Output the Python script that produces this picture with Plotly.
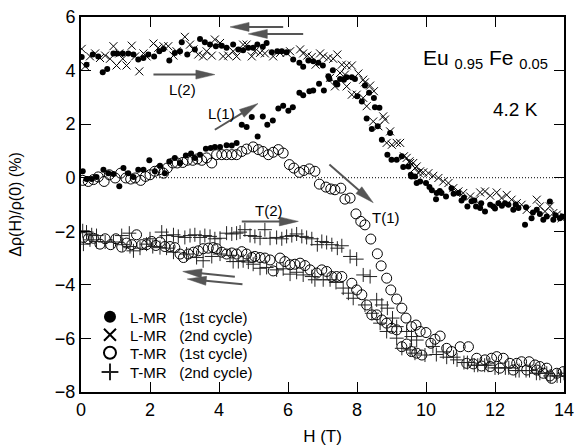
import plotly.graph_objects as go

# ---------------- data ----------------
# L-MR, 1st cycle (filled circles)
lmr1_x = [0.05, 0.16, 0.31, 0.45, 0.65, 0.79, 0.94, 1.11, 1.23, 1.37, 1.52, 1.66, 1.81, 1.98, 2.14, 2.29, 2.43, 2.56,
          2.72, 2.87, 3.04, 3.19, 3.30, 3.45, 3.62, 3.76, 3.88, 4.03, 4.22, 4.37, 4.51, 4.66, 4.80, 4.95, 5.12, 5.27,
          5.40, 5.56, 5.72, 5.86, 6.01, 6.14, 6.33, 6.44, 6.62, 6.73, 6.90, 7.04, 7.17, 7.30, 7.20, 7.39, 7.43, 7.51,
          7.62, 7.70, 7.85, 7.94, 8.01, 8.14, 8.23, 8.35, 8.49, 8.28, 8.43, 8.52, 8.65, 8.60, 8.96, 8.72, 8.88, 9.00,
          9.15, 9.30, 9.34, 9.49, 9.58, 9.68, 9.73, 9.56, 9.83, 10.00, 10.10, 10.17, 10.31, 10.29, 10.40, 10.45, 10.58,
          10.74, 10.80, 10.94, 11.03, 11.10, 11.20, 11.32, 11.40, 11.45, 11.57, 11.60, 11.71, 11.86, 11.95, 12.00,
          12.10, 12.20, 12.29, 12.39, 12.53, 12.60, 12.68, 12.87, 12.90, 13.06, 13.10, 13.21, 13.30, 13.40, 13.50,
          13.59, 13.69, 13.75, 13.88, 13.95,
          0.02, 0.16, 0.34, 0.50, 0.63, 0.76, 0.94, 1.05, 1.21, 1.37, 1.52, 1.66, 1.81, 1.95, 2.12, 2.27, 2.39, 2.56,
          2.72, 2.87, 2.92, 3.08, 3.30, 3.45, 3.59, 3.74, 3.91, 4.08, 4.22, 4.41, 4.56, 4.70, 4.85, 4.99, 5.11, 5.27,
          5.38, 5.53, 5.69, 5.82, 5.96, 6.15, 6.33, 6.44, 6.59, 6.73, 6.88, 7.01]
lmr1_y = [0.24, -0.05, -0.05, 0.03, 0.30, 0.17, 0.14, -0.32, 0.36, 0.17, 0.03, 0.30, 0.30, 0.65, 0.24, 0.45, 0.17, 0.61,
          0.74, 0.55, 0.83, 0.90, 0.74, 0.86, 1.08, 1.11, 1.15, 1.15, 1.21, 1.20, 1.30, 1.98, 1.89, 2.27, 1.54, 2.29,
          1.98, 2.14, 2.58, 2.69, 2.50, 2.63, 3.17, 3.08, 3.23, 3.26, 3.51, 3.26, 3.79, 4.01, 3.69, 3.54, 3.48, 3.69,
          3.66, 3.75, 3.75, 3.69, 3.04, 2.85, 3.44, 3.17, 2.98, 2.21, 1.82, 2.63, 2.61, 1.92, 1.67, 1.42, 0.86, 0.67,
          0.67, 0.80, 0.40, 0.42, 0.05, 0.05, -0.20, 0.11, -0.14, -0.20, -0.35, -0.47, -0.57, -0.80, -0.50, -0.57, -0.70,
          -0.39, -0.60, -0.57, -0.85, -0.75, -1.07, -0.88, -0.85, -1.07, -1.13, -0.95, -1.26, -1.01, -1.07, -1.15,
          -0.95, -1.05, -0.95, -1.01, -1.20, -1.00, -1.13, -1.76, -1.10, -1.51, -1.30, -1.20, -1.35, -1.57, -1.45,
          -0.89, -1.57, -1.40, -1.51, -1.45,
          4.51, 4.22, 4.60, 4.53, 3.94, 4.06, 4.64, 4.64, 4.64, 4.64, 4.60, 4.41, 4.47, 4.60, 4.53, 4.72, 4.81, 4.38,
          4.66, 4.72, 5.06, 4.60, 4.79, 5.18, 5.06, 4.97, 4.91, 4.93, 4.85, 4.97, 4.79, 4.76, 4.85, 4.85, 4.97, 4.89,
          5.03, 4.68, 4.72, 4.72, 4.68, 4.41, 4.29, 4.14, 4.38, 4.35, 4.29, 4.19]

# L-MR, 2nd cycle (x marks)
lmr2_x = [0.02, 0.12, 0.26, 0.41, 0.55, 0.70, 0.84, 0.94, 1.03, 1.11, 1.21, 1.32, 1.47, 1.57, 1.69, 1.81, 1.90, 2.10,
          2.24, 2.39, 2.53, 2.68, 2.77, 3.01, 3.16, 3.26, 3.40, 3.54, 3.64, 3.79, 3.88, 4.03, 4.12, 4.27, 4.41, 4.51,
          4.70, 4.80, 4.95, 5.04, 5.19, 5.33, 5.57, 5.77, 5.96, 6.06, 6.35, 6.44, 6.56, 6.69, 6.80, 6.93, 7.02, 7.17,
          7.31, 7.43, 7.56, 7.70, 7.85, 7.22, 7.36, 7.51, 7.65, 8.04, 7.70, 7.85, 7.99, 8.18, 8.23, 8.38, 8.49, 8.18,
          8.28, 8.47, 8.62, 8.76, 8.81, 8.96, 8.86, 9.01, 9.15, 9.25, 9.36, 9.44, 9.52, 9.63, 9.73, 9.78, 9.54, 9.68,
          9.83, 9.92, 10.07, 10.21, 10.36, 10.50, 10.65, 10.79, 10.94, 11.08, 11.28, 11.42, 11.57, 11.71, 11.86,
          12.05, 12.19, 12.34, 12.48, 12.63, 12.77, 12.92, 13.21, 13.30, 13.45, 13.59, 13.69, 13.79, 13.93, 14.00]
lmr2_y = [4.81, 4.16, 4.53, 4.64, 4.47, 4.56, 4.44, 4.91, 4.19, 4.64, 4.44, 4.19, 4.93, 4.53, 3.97, 4.64, 4.53, 5.01,
          4.85, 4.91, 4.91, 4.56, 4.72, 5.26, 4.97, 4.79, 4.60, 4.53, 4.72, 4.56, 5.16, 5.03, 4.53, 4.56, 4.72, 4.53,
          4.97, 4.97, 4.53, 4.72, 4.66, 4.64, 4.53, 4.66, 4.66, 4.72, 4.79, 4.64, 4.56, 4.51, 4.22, 4.64, 4.53, 4.47,
          4.44, 4.60, 4.22, 4.19, 4.19, 3.73, 3.41, 3.91, 3.85, 3.89, 3.41, 3.10, 3.10, 3.66, 3.56, 3.44, 3.23, 2.98,
          2.67, 2.10, 1.92, 2.29, 2.17, 1.73, 1.30, 1.23, 1.30, 1.30, 0.80, 0.74, 0.61, 0.55, 0.42, 0.18, 0.55, 0.36,
          0.24, 0.20, 0.17, 0.07, -0.01, -0.14, -0.20, -0.39, -0.51, -0.57, -0.70, -0.82, -0.55, -0.51, -0.67,
          -0.55, -0.76, -0.64, -0.82, -0.95, -1.01, -1.20, -0.82, -1.07, -1.26, -1.07, -1.32, -1.38, -1.51, -1.45]

# T-MR, 1st cycle (open circles)
tmr1_x = [0.05, 0.21, 0.36, 0.50, 0.67, 0.82, 0.99, 1.15, 1.30, 1.44, 1.57, 1.73, 1.87, 2.00, 2.14, 2.27, 2.39, 2.50,
          2.66, 2.79, 2.95, 3.08, 3.24, 3.37, 3.50, 3.64, 3.79, 3.93, 4.08, 4.22, 4.37, 4.51, 4.66, 4.80, 4.99, 5.14,
          5.27, 5.43, 5.57, 5.72, 5.86, 6.04, 6.17, 6.33, 6.46, 6.62, 6.78, 6.91, 7.10, 7.24, 7.36, 7.53, 7.65, 7.80,
          7.97, 8.11, 8.23, 8.40, 8.59, 8.70, 8.86, 8.98, 9.15, 9.30, 9.42, 9.58, 9.71, 9.83, 10.00, 10.14, 10.26,
          10.41, 10.60, 10.74, 10.99, 11.23, 11.47, 11.71, 11.90, 12.05, 12.24, 12.43, 12.63, 12.77, 12.99, 13.16,
          13.30, 13.50, 13.64, 13.79, 13.98,
          0.07, 0.21, 0.36, 0.55, 0.70, 0.86, 1.01, 1.18, 1.32, 1.47, 1.61, 1.76, 1.90, 2.05, 2.17, 2.29, 2.43, 2.58,
          2.72, 2.87, 2.97, 3.11, 3.26, 3.40, 3.54, 3.69, 3.83, 3.93, 4.08, 4.22, 4.37, 4.51, 4.66, 4.80, 4.95, 5.04,
          5.19, 5.33, 5.48, 5.57, 5.77, 5.91, 6.06, 6.20, 6.35, 6.49, 6.64, 6.83, 6.98, 7.12, 7.27, 7.41, 7.56, 7.85,
          7.99, 8.14, 8.28, 8.43, 8.57, 8.72, 8.86, 9.01, 9.15, 9.30, 9.44, 9.58, 9.73, 9.88, 11.18, 11.37, 11.61,
          11.86, 12.14, 12.53, 12.92, 13.21, 13.40, 13.59]
tmr1_y = [-0.10, -0.14, -0.07, 0.03, -0.14, 0.11, -0.01, 0.17, -0.01, -0.05, -0.01, -0.10, 0.05, 0.11, 0.24, 0.30,
          0.17, 0.36, 0.55, 0.55, 0.57, 0.65, 0.65, 0.70, 0.65, 0.74, 0.55, 0.86, 0.86, 0.86, 0.86, 0.86, 0.98, 1.07,
          1.15, 1.05, 0.98, 0.86, 0.95, 1.05, 0.92, 0.49, 0.36, 0.20, 0.27, 0.33, 0.24, -0.24, -0.35, -0.42, -0.45,
          -0.39, -0.80, -0.76, -1.35, -1.63, -1.76, -2.29, -2.84, -3.29, -3.75, -4.19, -4.53, -4.87, -5.24, -5.56,
          -5.50, -5.74, -5.78, -6.18, -6.03, -5.91, -6.37, -6.49, -6.31, -6.31, -6.74, -6.80, -6.74, -6.68, -6.74,
          -6.93, -6.93, -6.87, -6.87, -6.99, -7.05, -7.11, -7.49, -7.30, -7.24,
          -2.23, -2.28, -2.26, -2.48, -2.28, -2.50, -2.28, -2.59, -2.44, -2.50, -2.13, -2.50, -2.50, -2.38, -2.53,
          -2.40, -2.57, -2.57, -2.61, -2.85, -2.98, -2.85, -2.78, -2.73, -2.65, -2.63, -2.61, -2.65, -2.78, -2.85,
          -2.81, -2.85, -2.76, -2.85, -2.98, -2.94, -2.98, -3.00, -3.07, -3.48, -3.00, -3.13, -3.25, -3.23, -3.19,
          -3.28, -3.44, -3.56, -3.44, -3.50, -3.69, -3.69, -3.69, -3.94, -4.19, -4.37, -4.75, -5.12, -5.12, -5.31,
          -5.43, -5.62, -5.68, -6.31, -6.21, -6.49, -6.55, -6.62, -6.93, -6.95, -7.03, -7.05, -7.11, -7.18, -7.18,
          -7.18, -7.30, -7.40]

# T-MR, 2nd cycle (+ marks)
tmr2_x = [0.05, 0.16, 0.31, 0.45, 1.18, 1.40, 2.00, 2.34, 2.48, 2.68, 2.82, 3.01, 3.16, 3.30, 3.45, 3.59, 3.74, 3.88,
          4.03, 4.22, 4.37, 4.51, 4.61, 4.75, 4.90, 5.04, 5.19, 5.33, 5.48, 5.67, 5.82, 5.96, 6.11, 6.25, 6.40, 6.54,
          6.69, 6.85, 6.98, 7.12, 7.27, 7.43, 7.56, 7.80, 7.99, 8.18, 8.38, 8.57, 8.72, 8.88, 9.03, 9.15, 9.44, 9.58,
          9.73, 10.20, 10.50, 10.80, 11.10, 11.40, 11.70, 12.00, 12.30, 12.60, 12.90, 13.20, 13.50, 13.80, 14.00,
          0.07, 0.26, 0.45, 0.70, 0.94, 1.21, 1.42, 1.52, 1.71, 1.90, 2.08, 2.29, 2.48, 2.68, 3.06, 3.35, 3.54, 3.79,
          4.03, 4.32, 4.41, 4.56, 4.70, 4.85, 4.99, 5.19, 5.38, 5.67, 5.86, 6.06, 6.25, 6.44, 6.69, 6.78, 7.02, 7.22,
          7.39, 7.60, 7.75, 7.89, 8.23, 8.43, 8.67, 8.86, 9.15, 9.30, 9.54, 9.68, 9.97, 10.30, 10.60, 10.90, 11.20,
          11.50, 11.80, 12.10, 12.40, 12.70, 13.00, 13.30, 13.60, 13.90]
tmr2_y = [-1.98, -2.03, -2.13, -2.16, -2.16, -2.07, -2.28, -2.03, -2.16, -2.13, -2.19, -2.23, -2.16, -2.13, -2.23,
          -2.16, -2.19, -2.28, -2.26, -2.07, -2.10, -2.07, -2.03, -1.94, -2.16, -2.19, -2.26, -1.94, -2.26, -2.23,
          -2.28, -2.19, -2.16, -2.10, -2.19, -2.23, -2.28, -2.50, -2.38, -2.42, -2.50, -2.63, -2.54, -2.94, -3.04,
          -3.63, -3.69, -4.56, -4.75, -4.87, -5.24, -5.56, -5.74, -5.93, -6.06, -6.30, -6.50, -6.70, -6.90, -7.00,
          -7.00, -7.10, -7.10, -7.20, -7.20, -7.30, -7.30, -7.40, -7.30,
          -2.48, -2.32, -2.38, -2.40, -2.40, -2.50, -2.57, -2.73, -2.63, -2.48, -2.57, -2.61, -2.63, -2.78, -2.85,
          -2.98, -3.10, -2.94, -2.85, -2.90, -3.13, -3.13, -3.10, -3.15, -3.23, -3.38, -3.35, -3.44, -3.40, -3.60,
          -3.53, -3.63, -3.69, -3.81, -3.81, -3.81, -3.91, -4.12, -4.31, -4.50, -4.75, -5.06, -5.43, -5.74, -5.99,
          -6.37, -6.43, -6.55, -6.62, -6.60, -6.70, -6.80, -6.90, -7.00, -7.00, -7.10, -7.10, -7.20, -7.20, -7.30,
          -7.40, -7.40]

legend_names = ["L-MR\u00a0\u00a0 (1st cycle)", "L-MR\u00a0\u00a0 (2nd cycle)",
                "T-MR\u00a0\u00a0 (1st cycle)", "T-MR\u00a0\u00a0 (2nd cycle)"]
x_ticks = [0, 2, 4, 6, 8, 10, 12, 14]
y_ticks = [-8, -6, -4, -2, 0, 2, 4, 6]

# arrows: (start_x, start_y, tip_x, tip_y)
arrows = [(5.86, 5.63, 4.32, 5.63), (6.44, 5.37, 4.85, 5.37),
          (2.10, 3.85, 3.88, 3.85), (3.88, 1.79, 5.13, 2.77),
          (7.20, 0.49, 8.47, -0.93), (4.66, -1.63, 6.30, -1.63),
          (4.46, -3.70, 2.95, -3.50), (4.68, -3.98, 3.08, -3.78)]
labels = [("L(2)", 2.93, 3.29), ("L(1)", 4.07, 2.39), ("T(2)", 5.45, -1.23), ("T(1)", 8.85, -1.50)]

# ---------------- figure ----------------
FONT = "Liberation Sans, Arial, sans-serif"
W, H = 576, 448
ML, MR, MT, MB = 81, 12, 17, 56
XR = [0, 14]
YR = [-8, 6]

fig = go.Figure()
fig.add_trace(go.Scatter(x=lmr1_x, y=lmr1_y, mode="markers", name=legend_names[0], legend="legend",
                         marker=dict(symbol="circle", size=6, color="black", line=dict(width=0))))
fig.add_trace(go.Scatter(x=lmr2_x, y=lmr2_y, mode="markers", name=legend_names[1], legend="legend2",
                         marker=dict(symbol="x-thin", size=8, color="black", line=dict(width=1, color="black"))))
fig.add_trace(go.Scatter(x=tmr1_x, y=tmr1_y, mode="markers", name=legend_names[2], legend="legend3",
                         marker=dict(symbol="circle-open", size=10, color="black", line=dict(width=1))))
fig.add_trace(go.Scatter(x=tmr2_x, y=tmr2_y, mode="markers", name=legend_names[3], legend="legend4",
                         marker=dict(symbol="cross-thin", size=10, color="#222", line=dict(width=1, color="#222"))))

# pixel scales for drawing arrow heads
sx = (W - ML - MR) / (XR[1] - XR[0])
sy = (H - MT - MB) / (YR[1] - YR[0])
shapes = []
HL, HW = 19.0, 4.5
for (x0, y0, x1, y1) in arrows:
    X0, Y0, X1, Y1 = x0 * sx, y0 * sy, x1 * sx, y1 * sy
    L = ((X1 - X0) ** 2 + (Y1 - Y0) ** 2) ** 0.5
    ux, uy = (X1 - X0) / L, (Y1 - Y0) / L
    nx, ny = -uy, ux
    bx, by = X1 - HL * ux, Y1 - HL * uy
    ax_, ay_ = (bx + HW * nx) / sx, (by + HW * ny) / sy
    bx_, by_ = (bx - HW * nx) / sx, (by - HW * ny) / sy
    lx, ly = (X1 - 0.7 * HL * ux) / sx, (Y1 - 0.7 * HL * uy) / sy
    shapes.append(dict(type="line", xref="x", yref="y", x0=x0, y0=y0, x1=lx, y1=ly,
                       line=dict(color="#555", width=2)))
    shapes.append(dict(type="path", xref="x", yref="y",
                       path=f"M {x1},{y1} L {ax_},{ay_} L {bx_},{by_} Z",
                       fillcolor="#555", line=dict(color="#555", width=0.5)))

shapes.append(dict(type="line", xref="x", yref="y", x0=2.0, x1=14, y0=0, y1=0, layer="below",
                   line=dict(color="black", width=1, dash="1px,2px")))

annotations = []
for (t, x, y) in labels:
    annotations.append(dict(text=t, x=x, y=y, xref="x", yref="y", showarrow=False,
                            font=dict(family=FONT, size=15, color="black")))
annotations.append(dict(text="4.2 K", x=12.59, y=2.55, xref="x", yref="y", showarrow=False,
                        font=dict(family=FONT, size=19, color="black")))
annotations.append(dict(text="Eu\u00a0<sub>0.95</sub>\u00a0Fe\u00a0<sub>0.05</sub>", x=9.85, y=4.45,
                        xref="x", yref="y", xanchor="left", yanchor="middle", showarrow=False,
                        font=dict(family=FONT, size=21, color="black")))

axis_common = dict(showgrid=False, zeroline=False, showline=True, linecolor="black", linewidth=2,
                   mirror="ticks", ticks="inside", ticklen=10, tickwidth=1.2, tickcolor="black",
                   automargin=False,
                   tickfont=dict(family=FONT, size=18, color="black"))

fig.update_layout(
    width=W, height=H,
    margin=dict(l=ML, r=MR, t=MT, b=MB, autoexpand=False),
    paper_bgcolor="white", plot_bgcolor="white",
    font=dict(family=FONT, color="black"),
    xaxis=dict(range=XR, tickvals=x_ticks, title=dict(text="H (T)", font=dict(family=FONT, size=17), standoff=12),
               **axis_common),
    yaxis=dict(range=YR, tickvals=y_ticks, title=dict(text="Δρ(H)/ρ(0) (%)", font=dict(family=FONT, size=16), standoff=29),
               **axis_common),
    shapes=shapes,
    annotations=annotations,
    showlegend=True,
)
leg_rows = [0.20, 0.152, 0.104, 0.053]
for i, key in enumerate(["legend", "legend2", "legend3", "legend4"]):
    fig.update_layout({key: dict(x=0.0186, y=leg_rows[i], xanchor="left", yanchor="middle",
                                 bgcolor="rgba(0,0,0,0)", borderwidth=0, itemsizing="constant",
                                 font=dict(family=FONT, size=15, color="black"))})

fig.write_html("out.html")
